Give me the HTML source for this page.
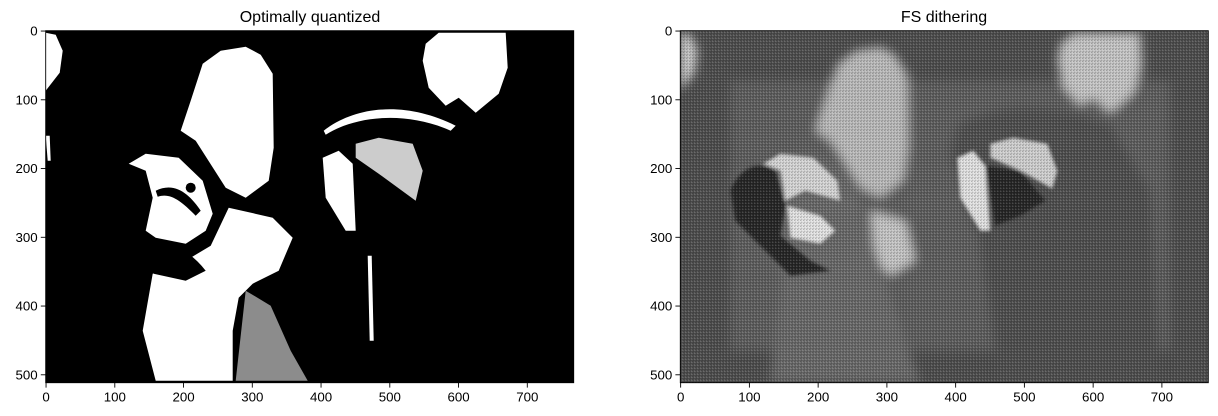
<!DOCTYPE html>
<html><head><meta charset="utf-8"><style>
html,body{margin:0;padding:0;background:#fff;}
svg{display:block;font-family:"Liberation Sans","DejaVu Sans",sans-serif;}
</style></head><body>
<svg id="fig" width="1218" height="416" viewBox="0 0 1218 416" xmlns="http://www.w3.org/2000/svg">
<defs>
<filter id="soft" x="-20%" y="-20%" width="140%" height="140%"><feGaussianBlur stdDeviation="5"/></filter>
<filter id="soft2" x="-20%" y="-20%" width="140%" height="140%"><feGaussianBlur stdDeviation="1.5"/></filter>
<pattern id="dither" width="3" height="3" patternUnits="userSpaceOnUse"><rect x="0" y="0" width="1" height="1" fill="#000" opacity="0.45"/><rect x="2" y="1" width="1" height="1" fill="#fff" opacity="0.35"/><rect x="1" y="2" width="1" height="1" fill="#000" opacity="0.3"/></pattern>
<clipPath id="clipL"><rect x="0" y="0" width="528" height="352"/></clipPath>
<clipPath id="clipR"><rect x="0" y="0" width="528" height="352"/></clipPath>
</defs>

<text x="310" y="22" text-anchor="middle" font-size="16" fill="#000">Optimally quantized</text>
<text x="944" y="22" text-anchor="middle" font-size="16" fill="#000">FS dithering</text>

<g id="panelL" transform="translate(45.7,30.7)">
 <g clip-path="url(#clipL)">
 <rect width="528" height="352" fill="#000"/>
 <g fill="#fff">
  <path d="M0,2 L10,4 L17,20 L14,42 L0,60 Z"/>
  <path d="M157,33 L175,20 L200,16 L215,24 L227,43 L228,117 L223,150 L200,167 L180,157 L150,110 L135,100 L145,70 Z"/>
  <path d="M380,13 L393,2 L460,2 L462,37 L453,63 L430,82 L413,67 L400,75 L383,57 L377,30 Z"/>
  <path d="M83,133 L100,123 L133,127 L157,150 L167,183 L160,200 L140,213 L110,207 L100,200 L107,167 L100,140 Z"/>
  <path d="M183,177 L227,187 L247,207 L233,240 L207,253 L193,267 L187,300 L187,350 L110,350 L97,300 L107,243 L140,230 L165,215 Z"/>
  <path d="M200,260 L225,275 L245,320 L262,350 L190,350 Z" opacity="0.55"/>
  <path d="M277,127 L293,120 L307,133 L310,200 L300,200 L280,167 Z"/>
  <path d="M310,113 L333,107 L367,113 L377,140 L370,170 L333,143 L310,127 Z" opacity="0.8"/>
  <path d="M278,100 C310,75 360,70 410,95 L405,100 C360,80 310,85 280,104 Z"/>
  <path d="M0,105 L4,105 L5,130 L2,130 Z"/>
  <path d="M322,225 L326,225 L328,310 L324,310 Z"/>
 </g>
 <g fill="#000">
  <path d="M110,160 C130,150 145,165 155,180 L150,185 C135,170 125,162 112,166 Z"/>
  <path d="M97,210 C115,205 140,215 160,240 L140,250 L108,243 Z"/>
  <circle cx="145" cy="157" r="5"/>
 </g>
 </g>
</g>

<g id="panelR" transform="translate(680.3,30.7)">
 <g clip-path="url(#clipR)">
 <rect width="528" height="352" fill="#4e4e4e"/>
 <g filter="url(#soft)">
  <rect x="50" y="50" width="440" height="270" fill="#5e5e5e"/>
  <path d="M0,2 L10,4 L17,20 L14,42 L0,60 Z" fill="#d0d0d0"/>
  <path d="M157,33 L175,20 L200,16 L215,24 L227,43 L228,117 L223,150 L200,167 L180,157 L150,110 L135,100 L145,70 Z" fill="#bdbdbd"/>
  <path d="M380,13 L393,2 L460,2 L462,37 L453,63 L430,82 L413,67 L400,75 L383,57 L377,30 Z" fill="#c8c8c8"/>
  <path d="M190,180 L225,190 L235,230 L210,245 L195,230 Z" fill="#c8c8c8"/>
  <path d="M278,95 C320,70 380,72 430,95 L470,160 L480,352 L320,352 L300,210 L270,120 Z" fill="#505050"/>
  <path d="M100,130 C130,115 160,130 175,160 L205,250 L240,352 L90,352 L100,260 Z" fill="#6a6a6a"/>
 </g>
 <g filter="url(#soft2)">
  <path d="M83,133 L100,123 L133,127 L157,150 L160,170 L125,160 L105,170 L100,140 Z" fill="#d8d8d8"/>
  <path d="M107,175 L140,185 L155,200 L140,213 L110,207 Z" fill="#e6e6e6"/>
  <path d="M50,160 C60,135 80,130 95,140 L105,175 L100,205 L130,230 L150,240 L110,245 L80,215 L55,190 Z" fill="#262626"/>
  <path d="M277,127 L293,120 L305,135 L310,200 L300,200 L280,167 Z" fill="#e5e5e5"/>
  <path d="M310,113 L333,107 L367,113 L377,140 L372,158 L340,140 L310,127 Z" fill="#d2d2d2"/>
  <path d="M305,135 L340,140 L365,170 L340,185 L315,195 Z" fill="#282828"/>
 </g>
 <rect width="528" height="352" fill="url(#dither)"/>
 </g>
</g>

<g id="axes" fill="none" stroke="#000" stroke-width="0.9">
 <rect x="45.7" y="30.7" width="528" height="352"/>
 <rect x="680.3" y="30.7" width="528" height="352"/>
</g>
<g id="ticks"></g>

<script>
const xTicks = [0,100,200,300,400,500,600,700];
const yTicks = [0,100,200,300,400,500];
const imgW = 768, imgH = 512;
const panels = [{left:45.7, top:30.7, name:'left'},{left:680.3, top:30.7, name:'right'}];
const S = 528/imgW;
const NS = 'http://www.w3.org/2000/svg';
const g = document.getElementById('ticks');
function xs(p,v){return p.left + (v+0.5)*S;}
function ys(p,v){return p.top + (v+0.5)*S;}
function mk(tag, attrs){const e=document.createElementNS(NS,tag);for(const k in attrs)e.setAttribute(k,attrs[k]);return e;}
panels.forEach(p=>{
  const bottom = p.top + 352;
  xTicks.forEach(v=>{
    const x = xs(p,v);
    const l = mk('line',{x1:x,x2:x,y1:bottom,y2:bottom+4.9,stroke:'#000','stroke-width':0.9});
    
    
    g.appendChild(l);
    const t = mk('text',{x:x,y:bottom+19,'text-anchor':'middle','font-size':13.3,fill:'#000'});
    t.textContent = v;
    
    
    g.appendChild(t);
  });
  yTicks.forEach(v=>{
    const y = ys(p,v);
    const l = mk('line',{x1:p.left-4.9,x2:p.left,y1:y,y2:y,stroke:'#000','stroke-width':0.9});
    
    
    g.appendChild(l);
    const t = mk('text',{x:p.left-8,y:y+4.7,'text-anchor':'end','font-size':13.3,fill:'#000'});
    t.textContent = v;
    
    
    g.appendChild(t);
  });
});
</script>
</svg>
</body></html>
